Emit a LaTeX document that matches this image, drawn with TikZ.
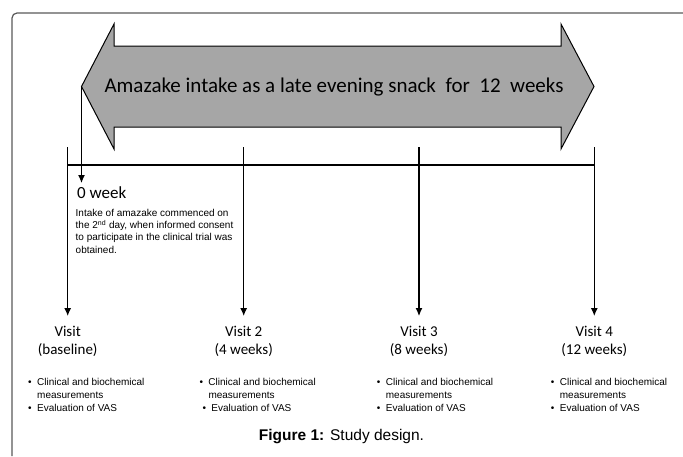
\documentclass[tikz,border=0pt]{standalone}
\usepackage{fontspec}
\setmainfont{Liberation Sans}
\newfontfamily\calibfont{Carlito}
\usetikzlibrary{arrows.meta,positioning}

\newcommand{\bitem}[1]{\makebox[9pt][l]{\textbullet}#1}
\newcommand{\bcont}[1]{\hspace*{9pt}#1}

\begin{document}
\begin{tikzpicture}[x=1pt,y=-1pt,
	tline/.style={line width=1.1pt},
	tarrow/.style={line width=1.1pt,-{Latex[length=8pt,width=7pt]}},
	visit/.style={font=\calibfont\fontsize{15}{18}\selectfont,align=center,anchor=north,inner xsep=0pt,inner ysep=10pt},
	bullets/.style={font=\fontsize{10}{12.8}\selectfont,align=left,anchor=north west,inner sep=0pt}]
			\useasboundingbox (0,0) rectangle (683,456);
			% frame
			\draw[black!65,line width=1.2pt,rounded corners=5pt] (683,13) -- (12,13) -- (12,456);
			% intake arrow
			\draw[fill=black!35,line width=1pt] (81.5,86.5) coordinate (tipl) -- (114,24) -- (114,46) -- (561,46) -- (561,24) -- (594,86.5) -- (561,149) -- (561,127) -- (114,127) -- (114,149) -- cycle;
			\node[font=\calibfont\fontsize{21}{24}\selectfont] (intake) at (334,87) {Amazake intake as a late evening snack~ for~ 12~ weeks};
			% time line
			\coordinate (h0) at (67.7,165);
			\coordinate (h4) at (594.3,165);
			\draw[tline] (h0) -- (h4);
			\coordinate (t1) at (67.7,147);
			\coordinate (t2) at (243.7,147);
			\coordinate (t3) at (419,147);
			\coordinate (t4) at (594.3,147);
			\node[visit] (v1) at (67.7,316) {Visit\\(baseline)};
			\node[visit] (v2) at (243.7,316) {Visit 2\\(4 weeks)};
			\node[visit] (v3) at (419,316) {Visit 3\\(8 weeks)};
			\node[visit] (v4) at (594.3,316) {Visit 4\\(12 weeks)};
			\foreach \i in {1,...,4}
				\draw[tarrow] (t\i) -- (v\i.north);
			% week 0
			\node[font=\calibfont\fontsize{17}{20}\selectfont,anchor=north west,inner xsep=0pt,inner ysep=3pt] (w0) at (77,183) {0 week};
			\draw[tarrow] (tipl) -- (tipl |- w0.north);
			\node[font=\fontsize{10}{12.2}\selectfont,align=left,anchor=north west,inner sep=0pt] (note) at (75.5,209)
				{Intake of amazake commenced on\\the 2\textsuperscript{nd} day, when informed consent\\to participate in the clinical trial was\\obtained.};
			% measurements
			\node[bullets] (m1) at (28,378) {\bitem{Clinical and biochemical}\\\bcont{measurements}\\\bitem{Evaluation of VAS}};
			\node[bullets] (m2) at (199.3,378) {\bitem{Clinical and biochemical}\\\bcont{measurements}\\\hspace*{3pt}\bitem{Evaluation of VAS}};
			\node[bullets] (m3) at (376.7,378) {\bitem{Clinical and biochemical}\\\bcont{measurements}\\\bitem{Evaluation of VAS}};
			\node[bullets] (m4) at (550.7,378) {\bitem{Clinical and biochemical}\\\bcont{measurements}\\\bitem{Evaluation of VAS}};
			% caption
			\node[font=\fontsize{15.5}{19}\selectfont] (cap) at (341.5,437) {\textbf{Figure 1:} Study design.};
\end{tikzpicture}
\end{document}
